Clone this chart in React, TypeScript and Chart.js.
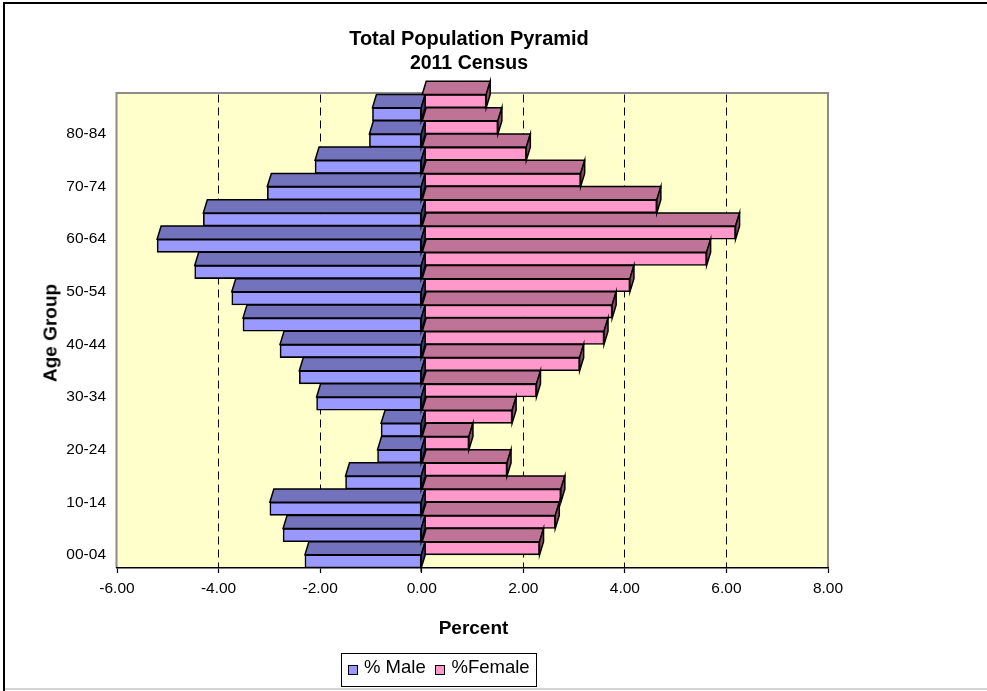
import React, { useEffect, useRef } from 'react';
import { Chart, registerables } from 'chart.js';

Chart.register(...registerables);

const ageGroups = ['00-04', '05-09', '10-14', '15-19', '20-24', '25-29', '30-34', '35-39', '40-44', '45-49', '50-54', '55-59', '60-64', '65-69', '70-74', '75-79', '80-84', '85+'];
const maleValues = [-2.30, -2.73, -2.99, -1.50, -0.87, -0.80, -2.07, -2.41, -2.79, -3.52, -3.74, -4.47, -5.21, -4.30, -3.04, -2.10, -1.03, -0.97];
const femaleValues = [2.32, 2.63, 2.74, 1.68, 0.93, 1.78, 2.26, 3.11, 3.59, 3.75, 4.10, 5.61, 6.18, 4.63, 3.13, 2.06, 1.50, 1.27];
const seriesNames = ['% Male', '%Female'];
const xMin = -6;
const xMax = 8;
const xStep = 2;
const titleLines = ['Total Population Pyramid', '2011 Census'];
const titleSizes = [20, 19.5];
const xTitle = 'Percent';
const yTitle = 'Age Group';

const FONT = '"Liberation Sans", Arial, Helvetica, sans-serif';
const MALE = { front: '#9999FF', top: '#7373BD', side: '#3A3A6A' };
const FEMALE = { front: '#FF99CC', top: '#BF7396', side: '#8A4D6B' };

const wallPlugin = {
  id: 'wall',
  beforeDraw(chart: any) {
    const { ctx, chartArea: a } = chart;
    ctx.save();
    ctx.fillStyle = '#FFFFCC';
    ctx.fillRect(a.left, a.top - 1.5, a.right - a.left, a.bottom - a.top + 1.5);
    ctx.strokeStyle = '#8C8C8C';
    ctx.lineWidth = 2;
    ctx.beginPath();
    ctx.moveTo(a.left - 0.5, a.bottom);
    ctx.lineTo(a.left - 0.5, a.top - 1.5);
    ctx.lineTo(a.right, a.top - 1.5);
    ctx.lineTo(a.right, a.bottom);
    ctx.stroke();
    ctx.restore();
  },
};

const depthPlugin = {
  id: 'depth',
  afterDatasetsDraw(chart: any) {
    const ctx = chart.ctx;
    const styles = [FEMALE, MALE];
    [1, 0].forEach((di) => {
      const meta = chart.getDatasetMeta(di);
      const st = styles[di];
      meta.data.forEach((el: any) => {
        const { x, y, base, height } = el.getProps(['x', 'y', 'base', 'height'], true);
        const left = Math.min(x, base);
        const right = Math.max(x, base);
        const top = y - height / 2;
        const bottom = y + height / 2;
        const d = height;
        const dx = 4;
        ctx.save();
        ctx.lineWidth = 1.5;
        ctx.strokeStyle = '#000';
        ctx.lineJoin = 'miter';
        ctx.beginPath();
        ctx.moveTo(left, top);
        ctx.lineTo(left + dx, top - d);
        ctx.lineTo(right + dx, top - d);
        ctx.lineTo(right, top);
        ctx.closePath();
        ctx.fillStyle = st.top;
        ctx.fill();
        ctx.stroke();
        ctx.beginPath();
        ctx.moveTo(right, top);
        ctx.lineTo(right + dx, top - d);
        ctx.lineTo(right + dx, bottom - d);
        ctx.lineTo(right, bottom);
        ctx.closePath();
        ctx.fillStyle = st.side;
        ctx.fill();
        ctx.stroke();
        ctx.restore();
      });
    });
  },
};

export default function App() {
  const ref = useRef<HTMLCanvasElement | null>(null);

  useEffect(() => {
    if (!ref.current) return;
    Chart.defaults.font.family = FONT;
    const chart = new Chart(ref.current, {
      type: 'bar',
      data: {
        labels: ageGroups,
        datasets: [
          {
            label: seriesNames[1],
            data: femaleValues,
            backgroundColor: FEMALE.front,
            borderColor: '#000',
            borderWidth: 1.6,
            borderSkipped: false,
            categoryPercentage: 1,
            barPercentage: 1,
          },
          {
            label: seriesNames[0],
            data: maleValues,
            backgroundColor: MALE.front,
            borderColor: '#000',
            borderWidth: 1.6,
            borderSkipped: false,
            categoryPercentage: 1,
            barPercentage: 1,
          },
        ],
      },
      options: {
        indexAxis: 'y',
        responsive: false,
        animation: false,
        devicePixelRatio: 1,
        events: [],
        layout: { padding: { left: 0, top: 94.5, right: 159, bottom: 0 } },
        plugins: {
          legend: { display: false },
          title: { display: false },
          tooltip: { enabled: false },
        },
        scales: {
          x: {
            type: 'linear',
            min: xMin,
            max: xMax,
            afterFit: (scale: any) => { scale.height = 123; },
            ticks: {
              stepSize: xStep,
              color: '#000',
              font: { size: 15.5, family: FONT },
              padding: 6,
              maxRotation: 0,
              callback: (v: any) => Number(v).toFixed(2),
            },
            grid: {
              color: (c: any) => {
                const v = c.tick ? c.tick.value : 0;
                return v === xMin || v === xMax || v === 0 ? 'rgba(0,0,0,0)' : '#000';
              },
              lineWidth: 1,
              tickLength: 5,
              tickColor: '#000',
              tickWidth: 1.2,
              tickBorderDash: [],
            },
            border: { display: true, color: '#000', width: 1.5, dash: [8, 5] },
          },
          y: {
            type: 'category',
            reverse: true,
            afterFit: (scale: any) => { scale.width = 117; },
            ticks: {
              autoSkip: false,
              color: '#000',
              font: { size: 15.5, family: FONT },
              padding: 11,
              callback: (_v: any, i: number) => (i % 2 === 0 ? ageGroups[i] : ''),
            },
            grid: { display: false, drawTicks: false, tickLength: 0 },
            border: { display: false },
          },
        },
      },
      plugins: [wallPlugin, depthPlugin],
    } as any);
    return () => chart.destroy();
  }, []);

  const abs = (s: React.CSSProperties): React.CSSProperties => ({ position: 'absolute', ...s });

  return (
    <div style={abs({ left: 0, top: 0, width: 987, height: 691, overflow: 'hidden', background: '#fff', fontFamily: FONT, color: '#000' })}>
      <div style={abs({ left: 3, top: 2, width: 1000, height: 700, borderTop: '2px solid #000', borderLeft: '2px solid #000' })} />
      <div style={abs({ left: 5, top: 688, width: 990, height: 2, background: '#D4D4D4' })} />
      <canvas ref={ref} width={987} height={691} style={abs({ left: 0, top: 0, width: 987, height: 691 })} />
      {titleLines.map((t, i) => (
        <div key={i} style={abs({ left: 469, top: 38.3 + i * 25, transform: 'translate(-50%,-50%)', fontWeight: 'bold', fontSize: titleSizes[i], lineHeight: 1, whiteSpace: 'nowrap' })}>{t}</div>
      ))}
      <div style={abs({ left: 473.5, top: 626.5, transform: 'translate(-50%,-50%)', fontWeight: 'bold', fontSize: 19, lineHeight: 1, whiteSpace: 'nowrap' })}>{xTitle}</div>
      <div style={abs({ left: 50, top: 332.5, transform: 'translate(-50%,-50%) rotate(-90deg)', fontWeight: 'bold', fontSize: 19, lineHeight: 1, whiteSpace: 'nowrap' })}>{yTitle}</div>
      <div style={abs({ left: 341, top: 653, width: 196, height: 34, border: '1px solid #000', boxSizing: 'border-box', background: '#fff' })} />
      <div style={abs({ left: 348, top: 665, width: 10, height: 10, border: '1px solid #000', boxSizing: 'border-box', background: MALE.front })} />
      <div style={abs({ left: 364, top: 667, transform: 'translateY(-50%)', fontSize: 18.5, lineHeight: 1, whiteSpace: 'nowrap' })}>{seriesNames[0]}</div>
      <div style={abs({ left: 435, top: 665, width: 10, height: 10, border: '1px solid #000', boxSizing: 'border-box', background: FEMALE.front })} />
      <div style={abs({ left: 451.5, top: 667, transform: 'translateY(-50%)', fontSize: 18.5, lineHeight: 1, whiteSpace: 'nowrap' })}>{seriesNames[1]}</div>
    </div>
  );
}
